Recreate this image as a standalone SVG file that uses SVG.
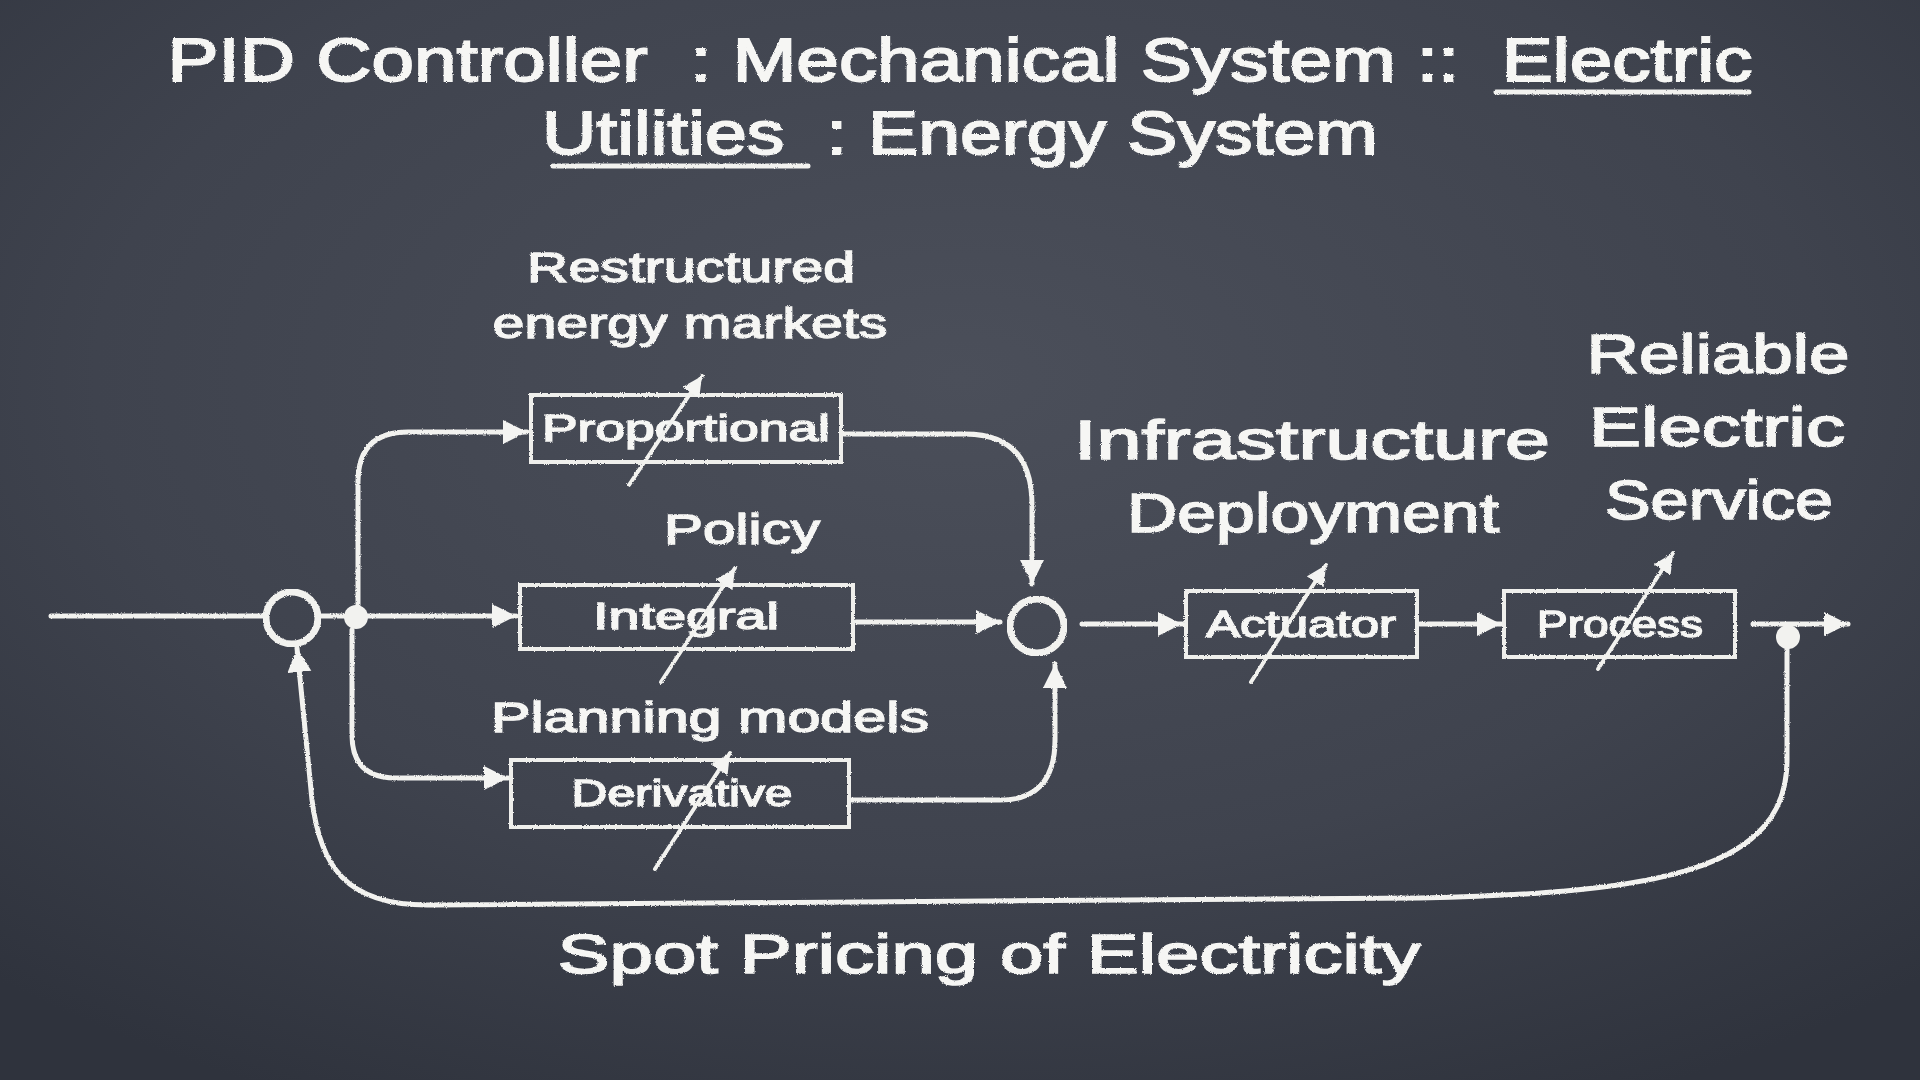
<svg xmlns="http://www.w3.org/2000/svg" width="1920" height="1080" viewBox="0 0 1920 1080">
<defs>
<radialGradient id="bg" cx="0.5" cy="0.35" r="0.75">
<stop offset="0" stop-color="#4b4f5a"/>
<stop offset="0.6" stop-color="#3f434e"/>
<stop offset="1" stop-color="#2f333d"/>
</radialGradient>
<filter id="chalk" x="-5%" y="-5%" width="110%" height="110%">
<feTurbulence type="fractalNoise" baseFrequency="0.9" numOctaves="2" seed="3" result="n"/>
<feDisplacementMap in="SourceGraphic" in2="n" scale="2.5" xChannelSelector="R" yChannelSelector="G"/>
</filter>
<marker id="ah" markerUnits="userSpaceOnUse" markerWidth="28" markerHeight="28" refX="24" refY="12" orient="auto">
<path d="M0,0 L24,12 L0,24 Z" fill="#f4f4f2"/>
</marker>
<marker id="ahs" markerUnits="userSpaceOnUse" markerWidth="24" markerHeight="24" refX="20" refY="10" orient="auto">
<path d="M0,0 L20,10 L0,20 Z" fill="#f4f4f2"/>
</marker>
</defs>
<style>
.t{font-family:"Liberation Sans","DejaVu Sans",sans-serif;fill:#f6f6f4;stroke:#f6f6f4;stroke-width:1.4;text-anchor:middle}
.title{font-size:62px;stroke-width:1.8}
.big{font-size:56px;stroke-width:1.6}
.lab{font-size:42px}
.box{fill:none;stroke:#efefec;stroke-width:4}
.bt{font-size:36px}
.ln{fill:none;stroke:#f2f2ef;stroke-width:5;stroke-linecap:round}
.dg{fill:none;stroke:#f2f2ef;stroke-width:4;stroke-linecap:round}
.dot{fill:#f2f2ef}
</style>
<rect width="1920" height="1080" fill="url(#bg)"/>

<g id="title" filter="url(#chalk)">
<text class="t title" x="960" y="81" textLength="1585" lengthAdjust="spacingAndGlyphs" xml:space="preserve">PID Controller  : Mechanical System ::  Electric</text>
<text class="t title" x="960" y="154" textLength="836" lengthAdjust="spacingAndGlyphs" xml:space="preserve">Utilities  : Energy System</text>
<line x1="1496" y1="92" x2="1749" y2="92" class="ln" stroke-width="4"/>
<line x1="553" y1="166" x2="808" y2="166" class="ln" stroke-width="4"/>
</g>

<g id="connectors" filter="url(#chalk)">
<line x1="51" y1="616" x2="266" y2="616" class="ln"/>
<line x1="318" y1="616" x2="350" y2="616" class="ln"/>
<line x1="366" y1="616" x2="516" y2="616" class="ln" marker-end="url(#ah)"/>
<path d="M358,605 L358,482 Q358,432 408,432 L527,432" class="ln" marker-end="url(#ah)"/>
<path d="M352,630 L352,735 Q352,778 396,778 L508,778" class="ln" marker-end="url(#ah)"/>
<path d="M844,434 L965,434 Q1032,434 1032,505 L1032,584" class="ln" marker-end="url(#ah)"/>
<line x1="856" y1="622" x2="1000" y2="622" class="ln" marker-end="url(#ah)"/>
<path d="M852,800 L1000,800 Q1055,800 1055,740 L1055,664" class="ln" marker-end="url(#ah)"/>
<line x1="1082" y1="624" x2="1182" y2="624" class="ln" marker-end="url(#ah)"/>
<line x1="1420" y1="624" x2="1501" y2="624" class="ln" marker-end="url(#ah)"/>
<line x1="1753" y1="624" x2="1848" y2="624" class="ln" marker-end="url(#ah)"/>
<path d="M1787,648 L1787,760 C1787,870 1660,893 1420,898 L430,905 C345,906 320,865 312,800 L297,648" class="ln" marker-end="url(#ah)"/>
</g>

<g id="sum1" filter="url(#chalk)">
<circle cx="292" cy="618" r="26" fill="none" stroke="#f2f2ef" stroke-width="7"/>
</g>
<g id="branch1">
<circle cx="356" cy="617" r="12" class="dot"/>
</g>
<g id="sum2" filter="url(#chalk)">
<circle cx="1037" cy="626" r="27" fill="none" stroke="#f2f2ef" stroke-width="7"/>
</g>
<g id="branch2">
<circle cx="1788" cy="637" r="12" class="dot"/>
</g>

<g id="proportional" filter="url(#chalk)">
<rect x="531" y="395" width="310" height="67" class="box"/>
<text class="t bt" x="686" y="441" textLength="288" lengthAdjust="spacingAndGlyphs">Proportional</text>
<line x1="629" y1="485" x2="702" y2="376" class="dg" marker-end="url(#ahs)"/>
</g>
<g id="integral" filter="url(#chalk)">
<rect x="520" y="585" width="333" height="64" class="box"/>
<text class="t bt" x="686" y="629" textLength="186" lengthAdjust="spacingAndGlyphs">Integral</text>
<line x1="661" y1="682" x2="735" y2="568" class="dg" marker-end="url(#ahs)"/>
</g>
<g id="derivative" filter="url(#chalk)">
<rect x="511" y="760" width="338" height="67" class="box"/>
<text class="t bt" x="682" y="806" textLength="221" lengthAdjust="spacingAndGlyphs">Derivative</text>
<line x1="655" y1="869" x2="730" y2="753" class="dg" marker-end="url(#ahs)"/>
</g>
<g id="actuator" filter="url(#chalk)">
<rect x="1186" y="591" width="231" height="66" class="box"/>
<text class="t bt" x="1301" y="637" textLength="190" lengthAdjust="spacingAndGlyphs">Actuator</text>
<line x1="1251" y1="682" x2="1326" y2="565" class="dg" marker-end="url(#ahs)"/>
</g>
<g id="process" filter="url(#chalk)">
<rect x="1504" y="591" width="231" height="66" class="box"/>
<text class="t bt" x="1620" y="637" textLength="166" lengthAdjust="spacingAndGlyphs">Process</text>
<line x1="1598" y1="669" x2="1673" y2="553" class="dg" marker-end="url(#ahs)"/>
</g>

<g id="labels" filter="url(#chalk)">
<text class="t lab" x="691" y="282" textLength="328" lengthAdjust="spacingAndGlyphs">Restructured</text>
<text class="t lab" x="690" y="338" textLength="395" lengthAdjust="spacingAndGlyphs">energy markets</text>
<text class="t lab" x="742" y="544" textLength="156" lengthAdjust="spacingAndGlyphs">Policy</text>
<text class="t lab" x="710" y="732" textLength="438" lengthAdjust="spacingAndGlyphs">Planning models</text>
<text class="t big" x="1312" y="459" textLength="476" lengthAdjust="spacingAndGlyphs">Infrastructure</text>
<text class="t big" x="1313" y="532" textLength="372" lengthAdjust="spacingAndGlyphs">Deployment</text>
<text class="t big" x="1718" y="373" textLength="263" lengthAdjust="spacingAndGlyphs">Reliable</text>
<text class="t big" x="1717" y="446" textLength="256" lengthAdjust="spacingAndGlyphs">Electric</text>
<text class="t big" x="1719" y="519" textLength="228" lengthAdjust="spacingAndGlyphs">Service</text>
<text class="t big" x="989" y="973" textLength="863" lengthAdjust="spacingAndGlyphs">Spot Pricing of Electricity</text>
</g>
</svg>
